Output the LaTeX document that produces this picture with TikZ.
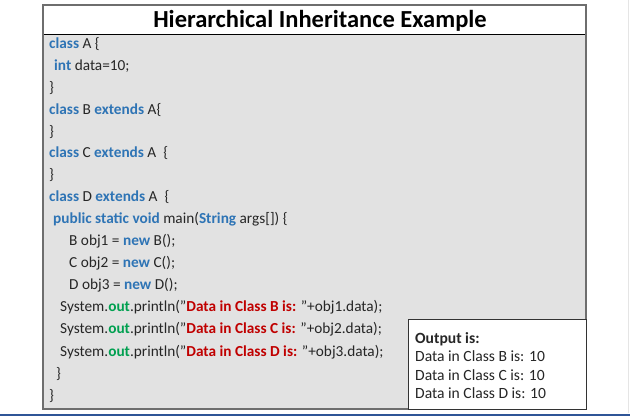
\documentclass[tikz,border=0pt]{standalone}
\usepackage{fontspec}
\setmainfont{Carlito}
\definecolor{kwblue}{RGB}{46,116,181}
\definecolor{strred}{RGB}{192,0,0}
\definecolor{outgreen}{RGB}{0,160,80}
\definecolor{codegrey}{RGB}{226,226,226}
\definecolor{framegrey}{RGB}{110,110,110}
\definecolor{slideblue}{RGB}{47,85,151}
\newcommand{\kw}[1]{\textcolor{kwblue}{\textbf{#1}}}
\newcommand{\strlit}[1]{\textcolor{strred}{\textbf{#1}}}
\newcommand{\fld}[1]{\textcolor{outgreen}{\textbf{#1}}}
\newcommand{\dq}{\char34}

\begin{document}
\begin{tikzpicture}[x=1pt, y=-1pt,
            codeline/.style={anchor=base west, inner sep=0pt, text=black!85,
                font=\fontsize{15.3}{18}\selectfont},
            outline/.style={anchor=base west, inner sep=0pt, text=black!85,
                font=\fontsize{15.6}{18}\selectfont}]
            \useasboundingbox (0,0) rectangle (630,417);
            % frames
            \draw[framegrey, line width=1.5pt, fill=codegrey] (43,5) rectangle (586,409);
            \filldraw[fill=white, draw=black, line width=0.8pt] (43,5) rectangle (586,34);
            \draw[framegrey, line width=1.5pt] (43,5) rectangle (586,409);
            \filldraw[fill=white, draw=black!80, line width=1pt] (408,319) rectangle (586,409);
            \draw[black!10, line width=0.8pt] (628,0) -- (628,413);
            \draw[slideblue, line width=2pt] (0,415) -- (630,415);
            % title
            \node (title) at (320,28) [anchor=base, inner sep=0pt,
                font=\fontsize{24.5}{28}\selectfont\bfseries] {Hierarchical Inheritance Example};
            % code
            \node[codeline] (clsA)  at (49,49)  {\kw{class} A \{};
            \node[codeline] (data)  at (54,71)  {\kw{int} data=10;};
            \node[codeline] (endA)  at (49,93)  {\}};
            \node[codeline] (clsB)  at (49,115) {\kw{class} B \kw{extends} A\{};
            \node[codeline] (endB)  at (49,137) {\}};
            \node[codeline] (clsC)  at (49,158) {\kw{class} C \kw{extends} A~ \{};
            \node[codeline] (endC)  at (49,180) {\}};
            \node[codeline] (clsD)  at (49,202) {\kw{class} D \kw{extends} A~ \{};
            \node[codeline] (main)  at (53,224) {\kw{public static void} main(\kw{String} args[]) \{};
            \node[codeline] (objB)  at (69,246) {B obj1 = \kw{new} B();};
            \node[codeline] (objC)  at (69,268) {C obj2 = \kw{new} C();};
            \node[codeline] (objD)  at (69,290) {D obj3 = \kw{new} D();};
            \node[codeline] (prtB)  at (60,312) {System.\fld{out}.println(\dq\strlit{Data in Class B is:} \dq+obj1.data);};
            \node[codeline] (prtC)  at (60,334) {System.\fld{out}.println(\dq\strlit{Data in Class C is:} \dq+obj2.data);};
            \node[codeline] (prtD)  at (60,356) {System.\fld{out}.println(\dq\strlit{Data in Class D is:} \dq+obj3.data);};
            \node[codeline] (endM)  at (56,378) {\}};
            \node[codeline] (endD)  at (49,400) {\}};
            % output
            \node[outline, font=\fontsize{15.6}{18}\selectfont\bfseries] (outhead) at (415,343) {Output is:};
            \node[outline] (outB) at (415,361) {Data in Class B is: 10};
            \node[outline] (outC) at (415,380) {Data in Class C is: 10};
            \node[outline] (outD) at (415,398) {Data in Class D is: 10};
        \end{tikzpicture}
\end{document}
